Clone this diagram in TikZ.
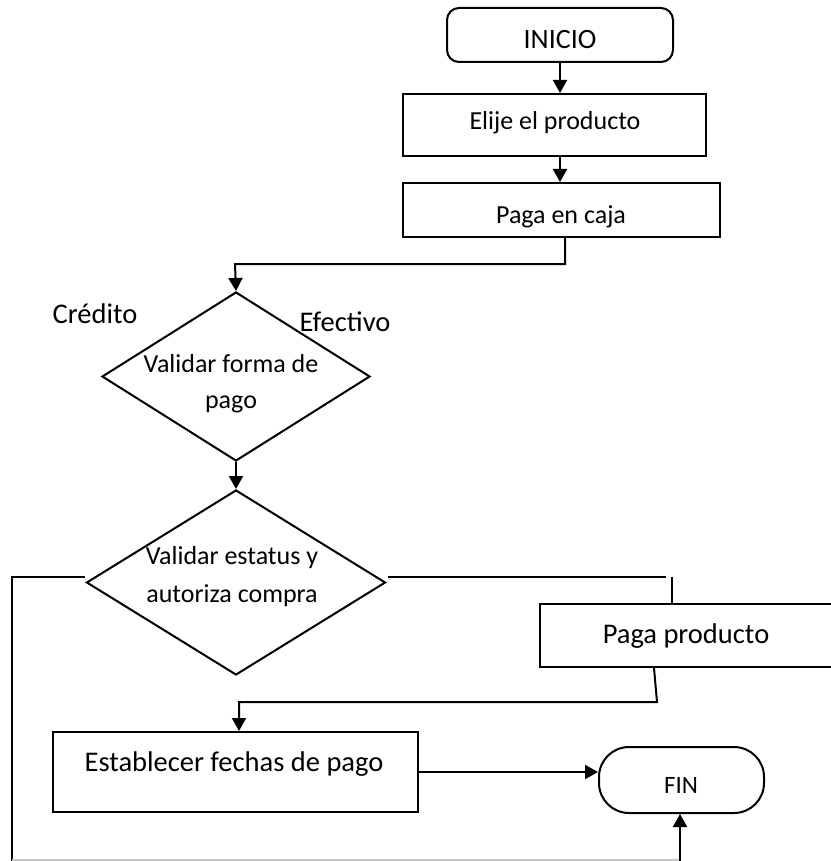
\documentclass[tikz,border=0pt]{standalone}
\usepackage{fontspec}
\setmainfont{Carlito}
\usetikzlibrary{shapes.geometric,arrows.meta}

\tikzset{
  line/.style={line width=2pt, draw=black},
  arr/.style={line, -{Triangle[length=13pt,width=14pt]}},
  procbox/.style={draw, line width=2pt, rectangle, inner sep=0pt},
  termbox/.style={draw, line width=2pt, rectangle, inner sep=0pt},
  decision/.style={draw, line width=2pt, diamond, inner sep=0pt},
  txt/.style={inner sep=0pt, anchor=base, font=\fontsize{26}{30}\selectfont},
  bigtxt/.style={txt, font=\fontsize{28.5}{32}\selectfont}
}

\begin{document}
\begin{tikzpicture}[x=1pt,y=-1pt]
\useasboundingbox (0,0) rectangle (830,861);

% shapes
\node[termbox, rounded corners=12pt, minimum width=226pt, minimum height=54pt] (inicio) at (560,35) {};
\node[procbox, minimum width=303pt, minimum height=62pt] (elije) at (554.5,125) {};
\node[procbox, minimum width=317pt, minimum height=54pt] (caja) at (561.5,210) {};
\node[decision, minimum width=268pt, minimum height=169pt] (val1) at (236,376.5) {};
\node[decision, minimum width=299pt, minimum height=185pt] (val2) at (236,582.5) {};
\node[procbox, minimum width=294pt, minimum height=63pt] (pago) at (687,635.5) {};
\node[procbox, minimum width=365pt, minimum height=80pt] (fechas) at (235.5,772) {};
\node[termbox, rounded corners=30pt, minimum width=165pt, minimum height=66pt] (fin) at (681.5,780) {};

% texts
\node[txt, font=\fontsize{28}{32}\selectfont] (t-inicio) at (560,49) {INICIO};
\node[txt] (t-elije) at (555,130) {Elije el producto};
\node[txt] (t-caja) at (561,223) {Paga en caja};
\node[txt] (t-val1a) at (231,372) {Validar forma de};
\node[txt] (t-val1b) at (231,408) {pago};
\node[txt] (t-val2a) at (232,564) {Validar estatus y};
\node[txt] (t-val2b) at (232,602) {autoriza compra};
\node[bigtxt] (t-pago) at (686,643) {Paga producto};
\node[bigtxt] (t-fechas) at (234,771) {Establecer fechas de pago};
\node[txt, font=\fontsize{25}{30}\selectfont] (t-fin) at (681,793) {FIN};
\node[bigtxt] (credito) at (95,323) {Crédito};
\node[bigtxt] (efectivo) at (345,331) {Efectivo};

% connector anchor points
\coordinate (c1) at (565,264);
\coordinate (c2) at (235,264);
\coordinate (l1) at (12,577);
\coordinate (l2) at (12,862);
\coordinate (b1) at (12,860);
\coordinate (b2) at (680,860);
\coordinate (l3) at (680,862);
\coordinate (r1) at (666,577);
\coordinate (r2) at (672,577);
\coordinate (p1) at (657,702);
\coordinate (p2) at (239,702);

% connectors
\draw[arr] (inicio.south) -- (inicio.south |- elije.north);
\draw[arr] (inicio.south |- elije.south) -- (inicio.south |- caja.north);
\draw[arr] (caja.south -| c1) -- (c1) -- (c2) -- (val1.north);
\draw[arr] (val1.south) -- (val2.north);
\draw[line] ([xshift=-1pt]val2.west |- l1) -- (l1) -- (l2);
\draw[line, draw=black!22] (b1) -- (b2);
\draw[arr] (l3) -- (fin.south -| l3);
\draw[line] ([xshift=1pt]val2.east |- r1) -- (r1);
\draw[line, line width=1.4pt] (r2) -- (pago.north -| r2);
\draw[arr] (pago.south -| 654,0) -- (p1) -- (p2) -- (fechas.north -| p2);
\draw[arr] (fechas.east) -- (fechas.east -| fin.west);
\end{tikzpicture}
\end{document}
